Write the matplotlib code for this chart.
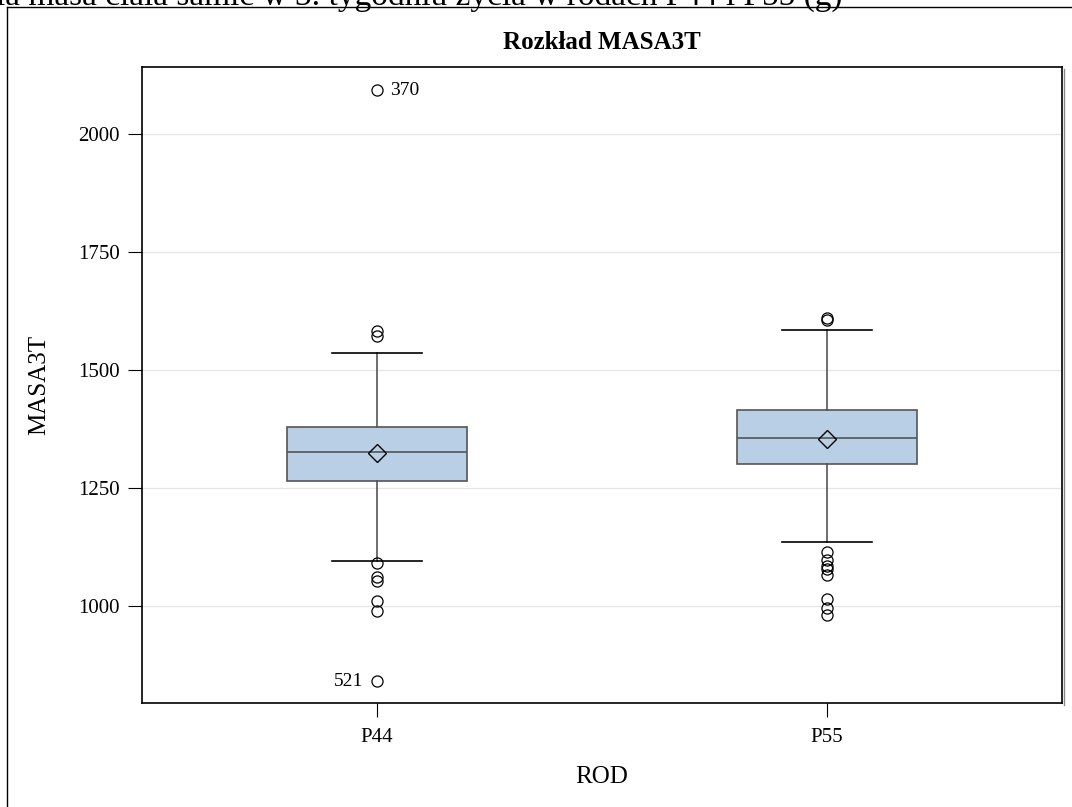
import matplotlib
matplotlib.use("Agg")
import matplotlib.pyplot as plt
from matplotlib.lines import Line2D

plt.rcParams['font.family'] = ['Liberation Serif', 'DejaVu Serif']

# data
groups = ['P44', 'P55']
q1 = [1265, 1300]
med = [1325, 1355]
q3 = [1378, 1415]
mean = [1323, 1353]
whislo = [1095, 1135]
whishi = [1535, 1585]
fliers = [
    [2093, 1583, 1572, 1090, 1062, 1052, 1010, 990, 840],
    [1610, 1605, 1115, 1098, 1085, 1078, 1065, 1015, 995, 980],
]
# labelled outliers: (group index, value, label, side)
labelled = [(0, 2093, '370', 'right'), (0, 840, '521', 'left')]
yticks = [1000, 1250, 1500, 1750, 2000]

fig = plt.figure(figsize=(10.72, 8.07), dpi=100)
ax = fig.add_axes([142/1072, 1 - 703/807, 920/1072, 636/807])

stats = []
for i, g in enumerate(groups):
    stats.append(dict(label=g, q1=q1[i], med=med[i], q3=q3[i], mean=mean[i],
                      whislo=whislo[i], whishi=whishi[i], fliers=fliers[i]))

line_c = '#555555'
ax.bxp(stats, positions=range(len(groups)), widths=0.4, patch_artist=True,
       showmeans=True, showfliers=True,
       boxprops=dict(facecolor='#b8cfe6', edgecolor=line_c, linewidth=1.2),
       medianprops=dict(color=line_c, linewidth=1.2),
       whiskerprops=dict(color=line_c, linewidth=1.2),
       capprops=dict(color='black', linewidth=1.2),
       capwidths=0.2,
       meanprops=dict(marker='D', markerfacecolor='none', markeredgecolor='black',
                      markersize=9, markeredgewidth=1.0),
       flierprops=dict(marker='o', markerfacecolor='none', markeredgecolor='black',
                       markersize=8, markeredgewidth=0.9))

for gi, v, lab, side in labelled:
    off = 0.03 if side == 'right' else -0.03
    ax.text(gi + off, v, lab, ha='left' if side == 'right' else 'right',
            va='center', fontsize=14)

ax.set_xlim(-0.522, 1.522)
ax.set_ylim(794, 2142)
ax.set_yticks(yticks)
ax.set_xticks(range(len(groups)))
ax.set_xticklabels(groups)
ax.tick_params(axis='both', labelsize=15, length=10, width=0.8)
ax.tick_params(axis='y', pad=6)
ax.tick_params(axis='x', pad=8)
ax.yaxis.grid(True, color='#e6e6e6', linewidth=0.9)
ax.set_axisbelow(True)
for s in ax.spines.values():
    s.set_linewidth(1.2)

ax.set_xlabel('ROD', fontsize=18, labelpad=14)
ax.set_ylabel('MASA3T', fontsize=18, labelpad=20)
ax.set_title('Rozkład MASA3T', fontsize=18, fontweight='bold', pad=13)

# shadow on the right of the frame
fig.add_artist(Line2D([1064/1072, 1064/1072], [1 - 705/807, 1 - 69/807],
                      color='#888888', linewidth=1.0))

# outer frame left over from the page
fig.add_artist(Line2D([7/1072, 1], [1 - 7/807, 1 - 7/807], color='black', linewidth=1.0))
fig.add_artist(Line2D([7/1072, 7/1072], [0, 1 - 7/807], color='black', linewidth=1.0))

# caption cut off at the top edge
fig.text(842/1072, 1 - 5/807, 'Średnia masa ciała samic w 3. tygodniu życia w rodach P44 i P55 (g)',
         ha='right', va='baseline', fontsize=24)

fig.savefig('out.png', dpi=100)
